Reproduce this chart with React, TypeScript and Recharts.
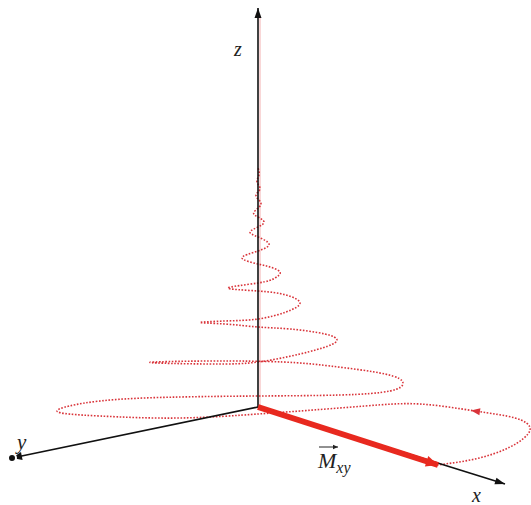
import React from 'react';
import { LineChart, Line, XAxis, YAxis } from 'recharts';

// All points are in the picture's own units: x to the right, y downwards.
const origin = { x: 258, y: 407 };
const zAxisEnd = { x: 258, y: 8 };
const yAxisEnd = { x: 12, y: 458 };
const xAxisEnd = { x: 505, y: 484 };
const mxyEnd = { x: 438, y: 465 };

// decaying transverse magnetisation spiral, read turn by turn
const spiralPath: [number, number][] = [
  [437, 465], [475, 459], [510, 447], [530, 430],
  [515, 418], [475, 411], [420, 404], [365, 406], [300, 411], [258, 414],
  [180, 418], [100, 416], [57, 411],
  [100, 401], [180, 397], [258, 396], [340, 395], [390, 391], [403, 383],
  [385, 374], [330, 366], [283, 362], [210, 361], [150, 362.5],
  [210, 364], [258, 362], [300, 354], [328, 346], [337, 340],
  [325, 334], [290, 329], [258, 327], [225, 324], [200, 322.5],
  [225, 321], [258, 319], [286, 312], [300, 303],
  [286, 295], [258, 291], [228, 288],
  [258, 283], [275, 278], [280, 272],
  [270, 267], [258, 264], [242, 258],
  [258, 251], [269, 244],
  [258, 237], [250, 232],
  [258, 227], [264, 222],
  [258, 217], [254, 212],
  [261, 204], [256, 196], [260, 189], [257, 182], [259, 175], [258, 168],
];

const spiralArrow = [{ x: 481, y: 412 }, { x: 471, y: 410.5 }];
const vectorBar = [{ x: 319, y: 447 }, { x: 338, y: 447 }];

const spiralData = spiralPath.map(([x, y]) => ({ x, y }));

type Pt = { x: number; y: number };

// arrowhead drawn on the last point of a 2-point series
const arrowHead = (from: Pt, to: Pt, color: string, len: number, half: number) =>
  (props: any) => {
    const { cx, cy, index } = props;
    if (index !== 1 || cx == null) return <g key={`a-${index}`} />;
    const a = Math.atan2(to.y - from.y, to.x - from.x);
    const c = Math.cos(a);
    const s = Math.sin(a);
    const bx = cx - len * c;
    const by = cy - len * s;
    const pts = `${cx},${cy} ${bx - half * s},${by + half * c} ${bx + half * s},${by - half * c}`;
    return <polygon key={`a-${index}`} points={pts} fill={color} stroke="none" />;
  };

const labelStyle: React.CSSProperties = {
  position: 'absolute',
  fontFamily: '"Liberation Serif", "DejaVu Serif", serif',
  fontStyle: 'italic',
  lineHeight: 0.8,
  color: '#222',
};

const App: React.FC = () => {
  const zLine = [origin, zAxisEnd];
  const yLine = [origin, yAxisEnd];
  const xLine = [origin, xAxisEnd];
  const mLine = [origin, mxyEnd];

  return (
    <div style={{ position: 'absolute', left: 0, top: 0, width: 531, height: 505, background: '#fff' }}>
      <LineChart width={531} height={505} margin={{ top: 0, right: 0, bottom: 0, left: 0 }}>
        <XAxis type="number" dataKey="x" domain={[0, 531]} hide allowDataOverflow />
        <YAxis type="number" dataKey="y" domain={[0, 505]} reversed hide allowDataOverflow />

        <Line data={[{ x: 260, y: 407 }, { x: 260, y: 16 }]} dataKey="y" stroke="#f3b0b0" strokeWidth={1} dot={false} isAnimationActive={false} />

        <Line data={spiralData} dataKey="y" type="natural" stroke="#d9343a" strokeWidth={1.6}
          strokeDasharray="1.6 1.6" dot={false} isAnimationActive={false} />
        <Line data={spiralArrow} dataKey="y" stroke="none" isAnimationActive={false}
          dot={arrowHead(spiralArrow[0], spiralArrow[1], '#d9343a', 9, 3.5)} />

        <Line data={zLine} dataKey="y" stroke="#111" strokeWidth={1.6} isAnimationActive={false}
          dot={arrowHead(origin, zAxisEnd, '#111', 10, 3.5)} />
        <Line data={yLine} dataKey="y" stroke="#111" strokeWidth={1.6} isAnimationActive={false}
          dot={arrowHead(origin, yAxisEnd, '#111', 10, 4)} />
        <Line data={xLine} dataKey="y" stroke="#111" strokeWidth={1.6} isAnimationActive={false}
          dot={arrowHead(origin, xAxisEnd, '#111', 10, 3.5)} />

        <Line data={mLine} dataKey="y" stroke="#e8291f" strokeWidth={6} isAnimationActive={false}
          dot={arrowHead(origin, mxyEnd, '#e8291f', 12, 5.5)} />

        <Line data={vectorBar} dataKey="y" stroke="#222" strokeWidth={1} isAnimationActive={false}
          dot={arrowHead(vectorBar[0], vectorBar[1], '#222', 5, 2.2)} />
      </LineChart>

      <div style={{ ...labelStyle, left: 234, top: 41, fontSize: 20 }}>z</div>
      <div style={{ ...labelStyle, left: 17, top: 434, fontSize: 21 }}>y</div>
      <div style={{ ...labelStyle, left: 472, top: 487, fontSize: 20 }}>x</div>
      <div style={{ ...labelStyle, left: 318, top: 452, fontSize: 22 }}>
        M<span style={{ fontSize: 16, position: 'relative', top: 5 }}>xy</span>
      </div>
    </div>
  );
};

export default App;
